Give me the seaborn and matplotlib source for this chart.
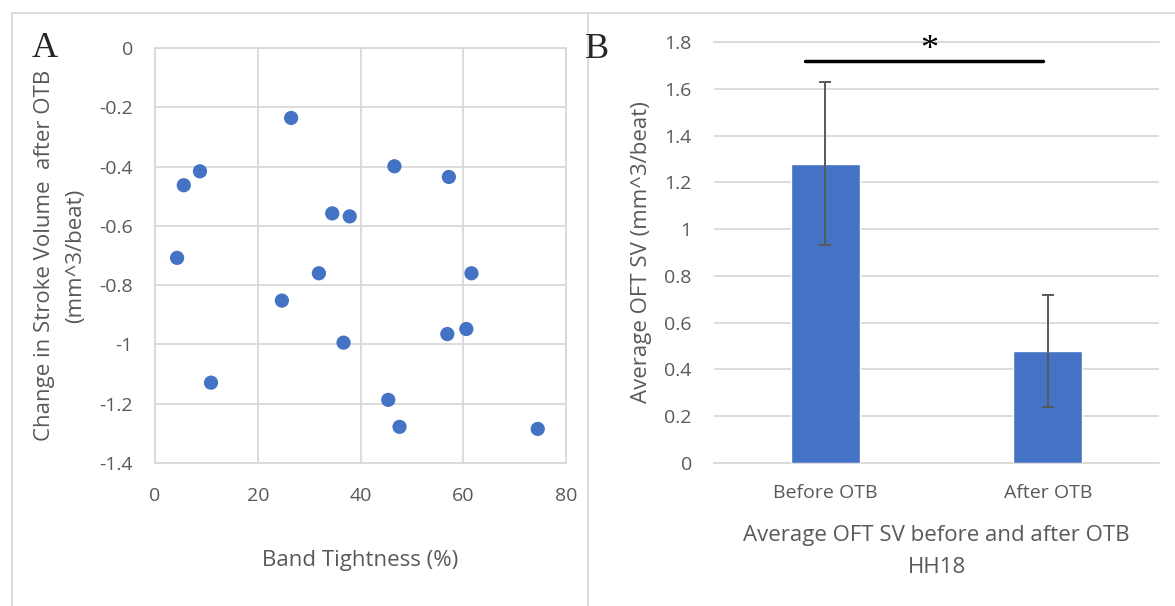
import matplotlib.pyplot as plt
from matplotlib.lines import Line2D
import seaborn as sns

# Panel A: band tightness vs change in stroke volume
band_tightness = [4.3, 5.6, 8.75, 10.9, 24.7, 26.5, 31.9, 34.5, 36.7, 37.9,
                  45.4, 46.6, 47.6, 56.9, 57.2, 60.6, 61.6, 74.5]
sv_change = [-0.708, -0.463, -0.416, -1.129, -0.852, -0.236, -0.760, -0.558, -0.994, -0.568,
             -1.187, -0.399, -1.278, -0.965, -0.435, -0.948, -0.760, -1.285]

# Panel B: average OFT SV before / after OTB
conditions = ["Before OTB", "After OTB"]
avg_sv = [1.28, 0.48]
sv_err = [0.35, 0.24]

BLUE = "#4472C4"
GRID = "#D9D9D9"
TEXT = "#595959"

sns.set_style("white")
plt.rcParams["font.family"] = ["Open Sans", "DejaVu Sans"]

fig = plt.figure(figsize=(11.75, 6.06), dpi=100)
W, H = 1175, 606


def px_axes(x0, y0, x1, y1):
    return fig.add_axes([x0 / W, 1 - y1 / H, (x1 - x0) / W, (y1 - y0) / H])


''' Panel A '''
ax1 = px_axes(155, 48, 566, 463)
sns.scatterplot(x=band_tightness, y=sv_change, ax=ax1, color=BLUE, s=105,
                edgecolor="none", zorder=3)
ax1.set_xlim(0, 80)
ax1.set_ylim(-1.4, 0)
ax1.set_xticks([0, 20, 40, 60, 80])
ax1.set_yticks([0, -0.2, -0.4, -0.6, -0.8, -1.0, -1.2, -1.4])
ax1.set_yticklabels(["0", "-0.2", "-0.4", "-0.6", "-0.8", "-1", "-1.2", "-1.4"])
ax1.grid(True, color=GRID, lw=1.3)
for sp in ax1.spines.values():
    sp.set_color(GRID)
    sp.set_linewidth(1.3)
ax1.tick_params(length=0, labelsize=14, labelcolor=TEXT)
ax1.tick_params(axis="y", pad=16)
ax1.tick_params(axis="x", pad=17)
ax1.set_xlabel("Band Tightness (%)", fontsize=16, color=TEXT)
ax1.xaxis.set_label_coords(0.5, -0.21)
ax1.set_ylabel("Change in Stroke Volume  after OTB\n(mm^3/beat)", fontsize=16,
               color=TEXT, linespacing=1.6)
ax1.yaxis.set_label_coords(-0.168, 0.5)

''' Panel B '''
ax2 = px_axes(714, 42, 1159, 463)
sns.barplot(x=conditions, y=avg_sv, ax=ax2, color=BLUE, width=0.31,
            saturation=1, zorder=3)
ax2.errorbar(x=[0, 1], y=avg_sv, yerr=sv_err, fmt="none", ecolor=TEXT,
             elinewidth=1.4, capsize=4.3, capthick=1.4, zorder=4)
ax2.set_xlim(-0.5, 1.5)
ax2.set_ylim(0, 1.8)
ax2.set_yticks([0, 0.2, 0.4, 0.6, 0.8, 1.0, 1.2, 1.4, 1.6, 1.8])
ax2.set_yticklabels(["0", "0.2", "0.4", "0.6", "0.8", "1", "1.2", "1.4", "1.6", "1.8"])
ax2.yaxis.grid(True, color=GRID, lw=1.3)
ax2.xaxis.grid(False)
for side in ["left", "right"]:
    ax2.spines[side].set_visible(False)
for side in ["top", "bottom"]:
    ax2.spines[side].set_color(GRID)
    ax2.spines[side].set_linewidth(1.3)
ax2.tick_params(length=0, labelsize=14, labelcolor=TEXT)
ax2.tick_params(axis="y", pad=16)
ax2.tick_params(axis="x", pad=15)
ax2.set_xlabel("Average OFT SV before and after OTB\nHH18", fontsize=16,
               color=TEXT, linespacing=1.7)
ax2.xaxis.set_label_coords(0.5, -0.147)
ax2.set_ylabel("Average OFT SV (mm^3/beat)", fontsize=16, color=TEXT)
ax2.yaxis.set_label_coords(-0.14, 0.5)

# Significance bar
ax2.plot([-0.09, 0.98], [1.72, 1.72], color="black", lw=2.5, clip_on=False, zorder=5)
ax2.text(0.466, 1.728, "*", ha="center", va="baseline", fontsize=26,
         family="Liberation Serif", color="black")

# Panel letters
fig.text(32 / W, 1 - 57 / H, "A", fontsize=26, family="Liberation Serif",
         ha="left", va="baseline")
fig.text(585 / W, 1 - 58 / H, "B", fontsize=26, family="Liberation Serif",
         ha="left", va="baseline")

# Outer frame lines
for xs, ys in [([12, W], [13, 13]), ([12, 12], [13, H]), ([588, 588], [13, H])]:
    fig.add_artist(Line2D([x / W for x in xs], [1 - y / H for y in ys],
                          color=GRID, lw=1.3))

fig.savefig("out.png", dpi=100)
